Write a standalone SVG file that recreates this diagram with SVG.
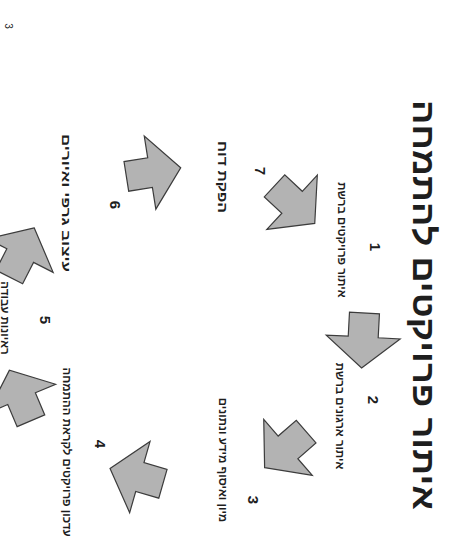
<svg xmlns="http://www.w3.org/2000/svg" xmlns:xlink="http://www.w3.org/1999/xlink" width="451" height="538" viewBox="0 0 451 538">
<style>
.arrow{fill:#b3b3b3;stroke:#3c3c3c;stroke-width:1.2;stroke-linejoin:miter}
.t{font-family:"Liberation Sans","DejaVu Sans",sans-serif;font-weight:bold;fill:#1e1e1e;text-anchor:middle}
.lbl{font-size:11.5px}
.num{font-size:15px}
.title{font-size:32px}
.pg{font-size:10px;font-weight:normal}
</style>
<defs>
<path id="arr" class="arrow" d="M27,0 L-4,-37 L-4,-15 L-28,-15 L-28,15 L-4,15 L-4,37 Z"/>
</defs>
<rect width="451" height="538" fill="#ffffff"/>
<g id="title"><text class="t title" transform="translate(413,305) rotate(90)" textLength="410" lengthAdjust="spacingAndGlyphs">איתור פרויקטים להתמחה</text></g>
<g id="connectors">
<use xlink:href="#arr" transform="translate(295,205) rotate(43)"/>
<use xlink:href="#arr" transform="translate(363,341) rotate(93)"/>
<use xlink:href="#arr" transform="translate(285,450) rotate(139)"/>
<use xlink:href="#arr" transform="translate(136,476) rotate(196)"/>
<use xlink:href="#arr" transform="translate(20,395) rotate(247)"/>
<use xlink:href="#arr" transform="translate(22,252) rotate(297)"/>
<use xlink:href="#arr" transform="translate(154,172) rotate(351)"/>
</g>
<g id="step1">
<text class="t num" transform="translate(370,247) rotate(90)">1</text>
<text class="t lbl" transform="translate(338,240) rotate(90)">איתור פרויקטים ברשת</text>
</g>
<g id="step2">
<text class="t num" transform="translate(368,400) rotate(90)">2</text>
<text class="t lbl" transform="translate(336,416) rotate(90)">איתור ארגונים ברשת</text>
</g>
<g id="step3">
<text class="t num" transform="translate(248,500) rotate(90)">3</text>
<text class="t lbl" transform="translate(219,460) rotate(90)">מיון ואיסוף מידע ונתונים</text>
</g>
<g id="step4">
<text class="t num" transform="translate(95,444) rotate(90)">4</text>
<text class="t lbl" transform="translate(63,452) rotate(90)">עדכון פרויקטים לקראת ההתמחה</text>
</g>
<g id="step5">
<text class="t num" transform="translate(40,320) rotate(90)">5</text>
<text class="t lbl" transform="translate(1,318) rotate(90)">ראיונות עבודה</text>
</g>
<g id="step6">
<text class="t num" transform="translate(110,205) rotate(90)">6</text>
<text class="t lbl" transform="translate(62,203) rotate(90)" style="font-size:12px" textLength="138" lengthAdjust="spacingAndGlyphs">עיצוב גרפי ואיורים</text>
</g>
<g id="step7">
<text class="t num" transform="translate(255,171) rotate(90)">7</text>
<text class="t lbl" transform="translate(218,177) rotate(90)" style="font-size:12.5px" textLength="72" lengthAdjust="spacingAndGlyphs">הפקת דוח</text>
</g>
<g id="page"><text class="t pg" transform="translate(5,26) rotate(90)">3</text></g>
</svg>
